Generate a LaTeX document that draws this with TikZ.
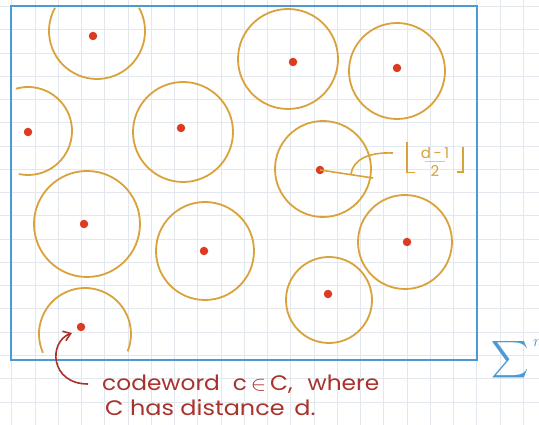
\documentclass[tikz,border=0pt]{standalone}
\usepackage{fontspec}
\setmainfont{Poppins}
\usetikzlibrary{arrows.meta}
\definecolor{gridc}{HTML}{E3E7EE}
\definecolor{ballc}{HTML}{D9A23A}
\definecolor{dotc}{HTML}{DD3A22}
\definecolor{boxc}{HTML}{4A9AD4}
\definecolor{inkred}{HTML}{A8322C}
\tikzset{
  gridline/.style={draw=gridc, line width=1pt},
  ball/.style={draw=ballc, line width=1.8pt},
  cw/.style={circle, fill=dotc, inner sep=0pt, minimum size=8.5pt},
  spacebox/.style={draw=boxc, line width=2.6pt},
  note/.style={text=inkred, font=\fontsize{21}{24}\selectfont, anchor=base west, inner sep=0pt},
  radtext/.style={text=ballc, font=\fontsize{15}{16}\selectfont, inner sep=0pt},
  bracket/.style={draw=ballc, line width=1.6pt},
}
\begin{document}
\begin{tikzpicture}[x=1pt,y=-1pt]
\useasboundingbox (0,0) rectangle (539,425);
\fill[white] (0,0) rectangle (539,425);
% grid paper
\foreach \i in {0,...,22} \draw[gridline] ({11.75+23.25*\i},0) -- ({11.75+23.25*\i},425);
\foreach \j in {0,...,18} \draw[gridline] (0,{6.75+23.25*\j}) -- (539,{6.75+23.25*\j});
% ambient space
\draw[spacebox] (11,6) rectangle (477,360);
% partial Hamming balls at the border
\draw[ball] (97,31) ++(209:48) arc[start angle=209, end angle=-29, radius=48];
\draw[ball] (28,131) ++(-106:44) arc[start angle=-106, end angle=102, radius=44];
\draw[ball] (85,334) ++(156:46) arc[start angle=156, end angle=382, radius=46];
% full Hamming balls
\draw[ball] (183,132) circle[radius=50];
\draw[ball] (288,59) circle[radius=50];
\draw[ball] (397,71) circle[radius=48];
\draw[ball] (323,169) circle[radius=48];
\draw[ball] (87,224) circle[radius=53];
\draw[ball] (205,251) circle[radius=49];
\draw[ball] (405,242) circle[radius=47];
\draw[ball] (329,300) circle[radius=43];
% codewords
\node[cw] (c1) at (93,36) {};
\node[cw] (c2) at (28,132) {};
\node[cw] (c3) at (181,128) {};
\node[cw] (c4) at (293,62) {};
\node[cw] (c5) at (397,68) {};
\node[cw] (c6) at (320,170) {};
\node[cw] (c7) at (84,224) {};
\node[cw] (c8) at (204,251) {};
\node[cw] (c9) at (81,327) {};
\node[cw] (c10) at (407,242) {};
\node[cw] (c11) at (328,294) {};
% radius label
\coordinate (rend) at (373,178);
\coordinate (lstart) at (351,174);
\coordinate (lend) at (393,153);
\draw[ball, line width=1.6pt] (c6.center) -- (rend);
\draw[ball, line width=1.6pt] (lstart) .. controls (353,160) and (368,152) .. (lend);
\node[radtext] (num) at (435,153) {d\,-\,1};
\node[radtext] (den) at (435,170.5) {2};
\draw[ballc, line width=0.8pt, opacity=0.6] (425,161.5) -- (445,161.5);
\draw[bracket] (407,142) -- (407,172.5) -- (415,172.5);
\draw[bracket] (463,147) -- (463,172) -- (457,172);
% Sigma^n
\node[text=boxc, inner sep=0pt] (sig) at (510,360) {\scalebox{2.6}{$\displaystyle\sum$}};
\node[text=boxc, anchor=west, inner sep=0pt] (sup) at (533,343) {\scalebox{1.6}{$n$}};
% annotation
\coordinate (astart) at (88,384);
\coordinate (atip) at (72,333);
\draw[inkred, line width=1.6pt, -{Straight Barb[length=7pt,width=10pt]}]
  (astart) .. controls (50,384) and (48,342) .. (atip);
\node[note] (t1) at (102,390) {\scalebox{1.11}[1]{codeword\hspace{6pt} c$\,\in\,$C,\hspace{8pt} where}};
\node[note] (t2) at (105,415) {\scalebox{1.14}[1]{C has distance\hspace{3pt} d.}};
\end{tikzpicture}
\end{document}
